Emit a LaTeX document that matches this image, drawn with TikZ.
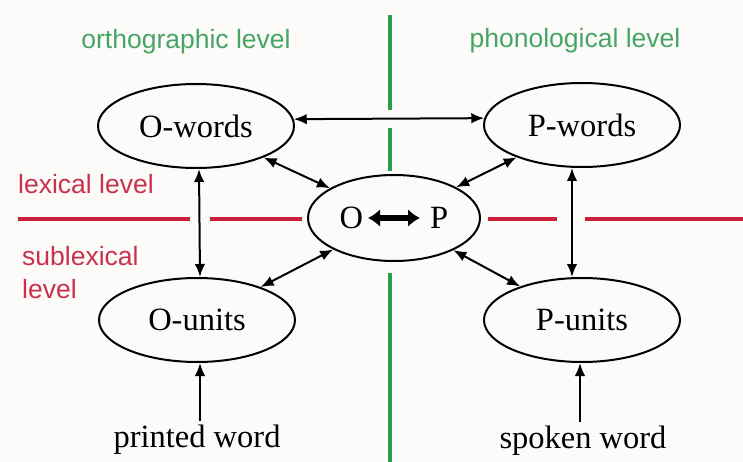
\documentclass[tikz,border=0pt]{standalone}
\usepackage{fontspec}
\setmainfont{Liberation Serif}
\newfontfamily\labelfont{Liberation Sans}
\usetikzlibrary{shapes.geometric,arrows.meta}

\definecolor{lvlgreen}{RGB}{40,160,75}
\definecolor{lvlgreentext}{RGB}{70,165,100}
\definecolor{lvlred}{RGB}{205,30,60}
\definecolor{lvlredtext}{RGB}{200,50,75}
\definecolor{paper}{RGB}{252,251,249}

\tikzset{
  unit/.style={ellipse, draw, line width=2pt, minimum width=196pt,
    minimum height=84pt, inner sep=0pt, font=\fontsize{32.5}{38}\selectfont},
  input/.style={inner sep=3pt, font=\fontsize{32.5}{38}\selectfont},
  link/.style={line width=2pt, >={Latex[length=13pt,width=10.5pt]}},
  levelname/.style={font=\labelfont\fontsize{26.5}{30}\selectfont, inner sep=0pt},
  greenlevel/.style={levelname, text=lvlgreentext},
  redlevel/.style={levelname, text=lvlredtext, align=left},
  vline/.style={lvlgreen, line width=4pt},
  hline/.style={lvlred, line width=4.5pt},
}

\begin{document}
\begin{tikzpicture}[x=1pt, y=-1pt]
  \fill[paper] (0,0) rectangle (743,462);
  \useasboundingbox (0,0) rectangle (743,462);

  % level boundaries
  \draw[vline] (390,15) -- (390,110);
  \draw[vline] (390,128) -- (390,171);
  \draw[vline] (390,273) -- (390,462);
  \draw[hline] (18,219) -- (190,219);
  \draw[hline] (210,219) -- (302,219);
  \draw[hline] (488,219) -- (557,219);
  \draw[hline] (585,219) -- (743,219);

  % level labels
  \node[greenlevel, anchor=base] (orth) at (186,49) {orthographic level};
  \node[greenlevel, anchor=base] (phon) at (575,48) {phonological level};
  \node[redlevel, anchor=base west] (lex) at (18,194) {lexical level};
  \node[redlevel, anchor=base west] (sublex1) at (22,265) {sublexical};
  \node[redlevel, anchor=base west] (sublex2) at (22,298) {level};

  % units
  \node[unit] (Ow) at (196,126) {O-words};
  \node[unit] (Pw) at (582,125) {P-words};
  \node[unit] (Ou) at (197,320) {O-units};
  \node[unit] (Pu) at (582,320) {P-units};
  \node[unit, minimum width=172pt, minimum height=86pt] (OP) at (394,218) {O\hspace{67pt}P};

  % inputs
  \node[input, anchor=base] (pw) at (197,447) {printed word};
  \node[input, anchor=base] (sw) at (583,448) {spoken word};

  % connections
  \draw[link, <->] (Ow.4) -- (Pw.176);
  \draw[link, <->] (Ow) -- (OP);
  \draw[link, <->] (Pw) -- (OP);
  \draw[link, <->] (Ou) -- (OP);
  \draw[link, <->] (Pu) -- (OP);
  \draw[link, <->] ([xshift=3pt]Ow.south) -- ([xshift=3pt]Ou.north);
  \draw[link, <->] ([xshift=-10pt]Pw.south) -- ([xshift=-10pt]Pu.north);
  \draw[link, ->] ([xshift=3pt]pw.north) -- ([xshift=3pt]Ou.south);
  \draw[link, ->] ([xshift=-3pt]sw.north) -- ([xshift=-2pt]Pu.south);

  % O <-> P mapping inside the central unit
  \draw[line width=6pt, {Latex[length=12pt,width=18pt]}-{Latex[length=12pt,width=18pt]}]
    ([xshift=-26pt]OP.center) -- ([xshift=26pt]OP.center);
\end{tikzpicture}
\end{document}
